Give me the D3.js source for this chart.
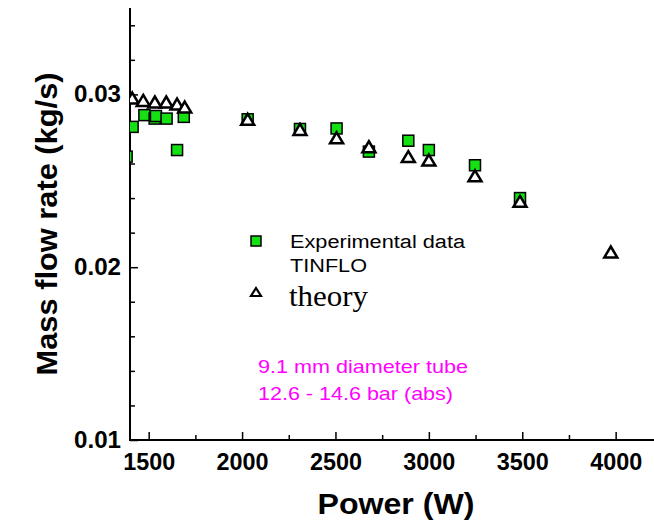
<!DOCTYPE html>
<html>
<head>
<meta charset="utf-8">
<script src="https://cdn.jsdelivr.net/npm/d3@7"></script>
<style>
  html, body { margin: 0; padding: 0; background: #fff; }
  svg { display: block; }
</style>
</head>
<body>
<svg id="chart" width="654" height="523"></svg>
<script>
// Measured mass flow rate (green squares)
const expPower = [1382, 1414, 1477, 1532, 1539, 1596, 1652, 1688, 2030, 2310, 2506, 2679, 2890, 3000, 3247, 3488];
const expFlow  = [0.0264, 0.02812, 0.0288, 0.0286, 0.02875, 0.0286, 0.02678, 0.0287, 0.02856, 0.0280, 0.02803, 0.02669, 0.02732, 0.02678, 0.0259, 0.0240];

// TINFLO theory (open triangles)
const theoryPower = [1412, 1471, 1533, 1594, 1652, 1693, 2030, 2310, 2506, 2679, 2890, 3000, 3247, 3488, 3974];
const theoryFlow  = [0.02979, 0.02965, 0.02956, 0.02956, 0.02944, 0.02927, 0.02856, 0.02797, 0.02749, 0.02697, 0.0264, 0.0262, 0.02529, 0.02381, 0.02088];

// Axis ticks
const xMajor = [1500, 2000, 2500, 3000, 3500, 4000];
const xMinor = [1750, 2250, 2750, 3250, 3750];
const yMajor = [0.01, 0.02, 0.03];
const yMinor = [0.012, 0.014, 0.016, 0.018, 0.022, 0.024, 0.026, 0.028, 0.032, 0.034];

const svg = d3.select("#chart");
const plotLeft = 130, plotTop = 8, plotBottom = 440, plotRight = 653;

const x = d3.scaleLinear().domain([1400, 4200]).range([plotLeft, plotRight]);
const y = d3.scaleLinear().domain([0.01, 0.035]).range([plotBottom, plotTop]);

svg.append("defs").append("clipPath").attr("id", "plotClip")
  .append("rect").attr("x", plotLeft).attr("y", 0).attr("width", 654 - plotLeft).attr("height", plotBottom);

// Axes
const xAxis = svg.append("g").attr("transform", `translate(0,${plotBottom})`)
  .call(d3.axisBottom(x).tickValues(xMajor).tickFormat(d3.format("d"))
    .tickSizeInner(-8).tickSizeOuter(0).tickPadding(14));
xAxis.select(".domain").attr("d", `M${plotLeft},0H654`).attr("stroke-width", 2);
xAxis.selectAll(".tick line").attr("stroke-width", 1.5);
xAxis.selectAll(".tick text")
  .attr("font-family", "Liberation Sans, Arial, sans-serif")
  .attr("font-weight", "bold").attr("font-size", 23).attr("fill", "#000")
  .attr("textLength", 52).attr("lengthAdjust", "spacingAndGlyphs");

svg.append("g").attr("transform", `translate(0,${plotBottom})`)
  .call(d3.axisBottom(x).tickValues(xMinor).tickFormat("").tickSizeInner(-5).tickSizeOuter(0))
  .call(g => g.select(".domain").remove())
  .selectAll(".tick line").attr("stroke-width", 1.5);

const yAxis = svg.append("g").attr("transform", `translate(${plotLeft},0)`)
  .call(d3.axisLeft(y).tickValues(yMajor).tickFormat(d3.format(".2f"))
    .tickSizeInner(-8).tickSizeOuter(0).tickPadding(9));
yAxis.select(".domain").attr("d", `M0,${plotTop}V${plotBottom + 1}`).attr("stroke-width", 2);
yAxis.selectAll(".tick line").attr("stroke-width", 1.5);
yAxis.selectAll(".tick text")
  .attr("font-family", "Liberation Sans, Arial, sans-serif")
  .attr("font-weight", "bold").attr("font-size", 23).attr("fill", "#000")
  .attr("textLength", 47).attr("lengthAdjust", "spacingAndGlyphs");

svg.append("g").attr("transform", `translate(${plotLeft},0)`)
  .call(d3.axisLeft(y).tickValues(yMinor).tickFormat("").tickSizeInner(-5).tickSizeOuter(0))
  .call(g => g.select(".domain").remove())
  .selectAll(".tick line").attr("stroke-width", 1.5);

// Axis titles
svg.append("text")
  .attr("x", 396).attr("y", 514).attr("text-anchor", "middle")
  .attr("font-family", "Liberation Sans, Arial, sans-serif")
  .attr("font-weight", "bold").attr("font-size", 30)
  .attr("textLength", 157).attr("lengthAdjust", "spacingAndGlyphs")
  .text("Power (W)");

svg.append("text")
  .attr("transform", "translate(57,224) rotate(-90)")
  .attr("text-anchor", "middle")
  .attr("font-family", "Liberation Sans, Arial, sans-serif")
  .attr("font-weight", "bold").attr("font-size", 30)
  .attr("textLength", 303).attr("lengthAdjust", "spacingAndGlyphs")
  .text("Mass flow rate (kg/s)");

// Markers
const plot = svg.append("g").attr("clip-path", "url(#plotClip)");
const sq = 11;
const expPts = expPower.map((p, i) => ({ p, f: expFlow[i] }));
const thPts = theoryPower.map((p, i) => ({ p, f: theoryFlow[i] }));

plot.selectAll("rect.exp").data(expPts).join("rect")
  .attr("class", "exp")
  .attr("x", d => x(d.p) - sq / 2).attr("y", d => y(d.f) - sq / 2)
  .attr("width", sq).attr("height", sq)
  .attr("fill", "#14e014").attr("stroke", "#000").attr("stroke-width", 1.5);

function triPath(w, h) {
  return `M0,${-h / 2}L${w / 2},${h / 2}L${-w / 2},${h / 2}Z`;
}

plot.selectAll("path.theory").data(thPts).join("path")
  .attr("class", "theory")
  .attr("transform", d => `translate(${x(d.p)},${y(d.f)})`)
  .attr("d", triPath(13, 11))
  .attr("fill", "#fff").attr("stroke", "#000").attr("stroke-width", 2.5)
  .attr("stroke-linejoin", "miter");

// Legend
const legend = svg.append("g");
legend.append("rect")
  .attr("x", 256 - 5).attr("y", 241 - 5).attr("width", 10).attr("height", 10)
  .attr("fill", "#14e014").attr("stroke", "#000").attr("stroke-width", 1.5);
legend.append("path")
  .attr("transform", "translate(256,292)")
  .attr("d", triPath(10, 8))
  .attr("fill", "#fff").attr("stroke", "#000").attr("stroke-width", 2.2);
legend.append("text")
  .attr("x", 290).attr("y", 248)
  .attr("font-family", "Liberation Sans, Arial, sans-serif").attr("font-size", 18)
  .attr("textLength", 175).attr("lengthAdjust", "spacingAndGlyphs")
  .text("Experimental data");
legend.append("text")
  .attr("x", 290).attr("y", 272)
  .attr("font-family", "Liberation Sans, Arial, sans-serif").attr("font-size", 18)
  .attr("textLength", 77).attr("lengthAdjust", "spacingAndGlyphs")
  .text("TINFLO");
legend.append("text")
  .attr("x", 289).attr("y", 306)
  .attr("font-family", "Liberation Serif, Times New Roman, serif").attr("font-size", 30)
  .attr("textLength", 79).attr("lengthAdjust", "spacingAndGlyphs")
  .text("theory");

// Test conditions note
const note = svg.append("g")
  .attr("font-family", "Liberation Sans, Arial, sans-serif").attr("font-size", 19)
  .attr("fill", "#ff00ff");
note.append("text").attr("x", 258).attr("y", 373)
  .attr("textLength", 210).attr("lengthAdjust", "spacingAndGlyphs")
  .text("9.1 mm diameter tube");
note.append("text").attr("x", 258).attr("y", 400)
  .attr("textLength", 195).attr("lengthAdjust", "spacingAndGlyphs")
  .text("12.6 - 14.6 bar (abs)");
</script>
</body>
</html>
